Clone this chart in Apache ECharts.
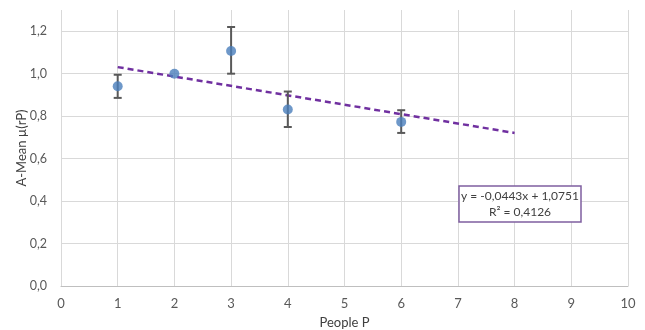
<!DOCTYPE html>
<html>
<head>
<meta charset="utf-8">
<script src="https://cdn.jsdelivr.net/npm/echarts@6/dist/echarts.min.js"></script>
<style>
  html, body { margin: 0; padding: 0; background: #fff; }
  #chart { width: 645px; height: 330px; }
</style>
</head>
<body>
<div id="chart"></div>
<script>
// mean values per number of people
const people = [1, 2, 3, 4, 6];
const meanValues = [0.941, 1.0, 1.107, 0.831, 0.773];
const errLow = [0.886, 1.0, 1.0, 0.749, 0.721];
const errHigh = [0.995, 1.0, 1.22, 0.916, 0.828];

// linear trend line (ends)
const trendX = [1, 8];
const trendY = [1.031, 0.721];
const trendLabel = ['y = -0,0443x + 1,0751', 'R² = 0,4126'];

const yTicks = ['0,0', '0,2', '0,4', '0,6', '0,8', '1,0', '1,2'];

const font = "Lato, 'Open Sans', sans-serif";

let chart = echarts.init(document.getElementById('chart'));

chart.setOption({
  animation: false,
  grid: { left: 61, right: 17, top: 10, bottom: 44, outerBoundsMode: 'none', containLabel: false },
  xAxis: {
    type: 'value',
    min: 0, max: 10, interval: 1,
    name: 'People P',
    nameLocation: 'middle',
    nameGap: 30,
    nameTextStyle: { color: '#404040', fontSize: 13, fontFamily: font },
    axisLine: { show: true, lineStyle: { color: '#bfbfbf' } },
    axisTick: { show: false },
    axisLabel: { color: '#595959', fontSize: 13, fontFamily: font, margin: 11 },
    splitLine: { show: true, lineStyle: { color: '#d9d9d9' } }
  },
  yAxis: {
    type: 'value',
    min: 0, max: 1.3, interval: 0.2,
    name: 'A-Mean µ(rP)',
    nameLocation: 'middle',
    nameGap: 33,
    nameMoveOverlap: false,
    nameTextStyle: { color: '#404040', fontSize: 13, fontFamily: font },
    axisLine: { show: false },
    axisTick: { show: false },
    axisLabel: {
      color: '#595959', fontSize: 12.5, fontFamily: font, margin: 14,
      showMaxLabel: false,
      formatter: v => yTicks[Math.round(v / 0.2)] || ''
    },
    splitLine: { show: true, showMaxLine: false, lineStyle: { color: '#d9d9d9' } }
  },
  series: [
    {
      type: 'line',
      data: trendX.map((x, i) => [x, trendY[i]]),
      symbol: 'none',
      lineStyle: { color: '#7030a0', width: 2.5, type: [6, 4] },
      z: 3
    },
    {
      type: 'custom',
      data: people.map((x, i) => [x, errLow[i], errHigh[i]]),
      renderItem: (params, api) => {
        const lo = api.coord([api.value(0), api.value(1)]);
        const hi = api.coord([api.value(0), api.value(2)]);
        if (Math.abs(lo[1] - hi[1]) < 1) return null;
        const style = { stroke: '#595959', lineWidth: 2 };
        const w = 4;
        return {
          type: 'group',
          children: [
            { type: 'line', shape: { x1: lo[0], y1: lo[1], x2: hi[0], y2: hi[1] }, style },
            { type: 'line', shape: { x1: hi[0] - w, y1: hi[1], x2: hi[0] + w, y2: hi[1] }, style },
            { type: 'line', shape: { x1: lo[0] - w, y1: lo[1], x2: lo[0] + w, y2: lo[1] }, style }
          ]
        };
      },
      z: 4
    },
    {
      type: 'scatter',
      data: people.map((x, i) => [x, meanValues[i]]),
      symbolSize: 10,
      itemStyle: { color: '#4a7ebb' },
      z: 5
    }
  ],
  graphic: [
    {
      type: 'rect',
      shape: { x: 459, y: 186, width: 122, height: 36 },
      style: { fill: '#fff', stroke: '#7f5fa0', lineWidth: 1.5 },
      z: 10
    },
    {
      type: 'text',
      x: 520, y: 204,
      style: {
        text: trendLabel.join('\n'),
        align: 'center', verticalAlign: 'middle',
        fill: '#404040', fontSize: 12, fontFamily: font, lineHeight: 16
      },
      z: 11
    }
  ]
});

window.addEventListener('resize', () => chart.resize());
</script>
</body>
</html>
